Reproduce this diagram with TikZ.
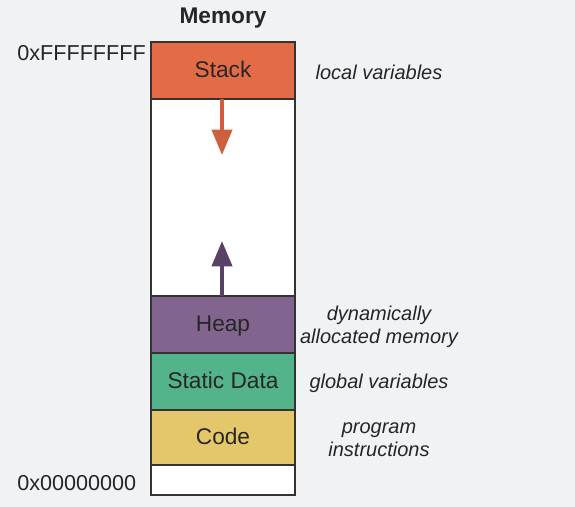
\documentclass[tikz,border=0pt]{standalone}
\usepackage{fontspec}
\setmainfont{Liberation Sans}
\usetikzlibrary{arrows.meta,positioning}

\definecolor{bgc}{HTML}{F1F2F4}
\definecolor{linec}{HTML}{333333}
\definecolor{stackc}{HTML}{E36C46}
\definecolor{stackarr}{HTML}{CF5F3C}
\definecolor{heapc}{HTML}{81658E}
\definecolor{heaparr}{HTML}{574265}
\definecolor{staticc}{HTML}{53B38A}
\definecolor{codec}{HTML}{E5C76B}

\begin{document}
\begin{tikzpicture}[
    x=0.75pt, y=-0.75pt,
    every node/.style={text=black!85, inner sep=0pt},
    seg/.style={draw=linec, line width=1.5pt, outer sep=0pt, minimum width=108pt, minimum height=42.75pt, text height=12.2pt, text depth=1pt, font=\fontsize{17}{20}\selectfont},
    note/.style={align=center, font=\fontsize{15}{17.5}\selectfont\itshape},
    addr/.style={font=\fontsize{16.2}{19}\selectfont},
    growarrow/.style={-{Triangle[length=19pt, width=15pt]}, line width=3pt}
]
\useasboundingbox[fill=bgc] (0,0) rectangle (575,507);

% memory column, top to bottom
\node[seg, fill=stackc, anchor=north west] (stack) at (151,42) {Stack};
\node[seg, fill=white, minimum height=147.75pt, below=0pt of stack] (free) {};
\node[seg, fill=heapc, below=0pt of free] (heap) {Heap};
\node[seg, fill=staticc, below=0pt of heap] (static) {Static Data};
\node[seg, fill=codec, minimum height=41.25pt, below=0pt of static] (code) {Code};
\node[seg, fill=white, minimum height=22.5pt, below=0pt of code] (unused) {};

\node[font=\fontsize{17}{20}\selectfont\bfseries, above=10pt of stack] (title) {Memory};

% addresses
\node[addr, anchor=east] (top) at (146,53) {0xFFFFFFFF};
\node[addr, anchor=west] (bottom) at (17,483) {0x00000000};

% growth directions
\coordinate (stacktip) at (222,155);
\coordinate (heaptip) at (222,241);
\draw[growarrow, stackarr] (stack.south -| stacktip) -- (stacktip);
\draw[growarrow, heaparr] (heap.north -| heaptip) -- (heaptip);

% descriptions
\node[note] (locals) at (379,72) {local variables};
\node[note] (dynamic) at (379,327) {dynamically\\allocated memory};
\node[note] (globals) at (379,383) {global variables};
\node[note] (instr) at (379,440) {program\\instructions};
\end{tikzpicture}
\end{document}
